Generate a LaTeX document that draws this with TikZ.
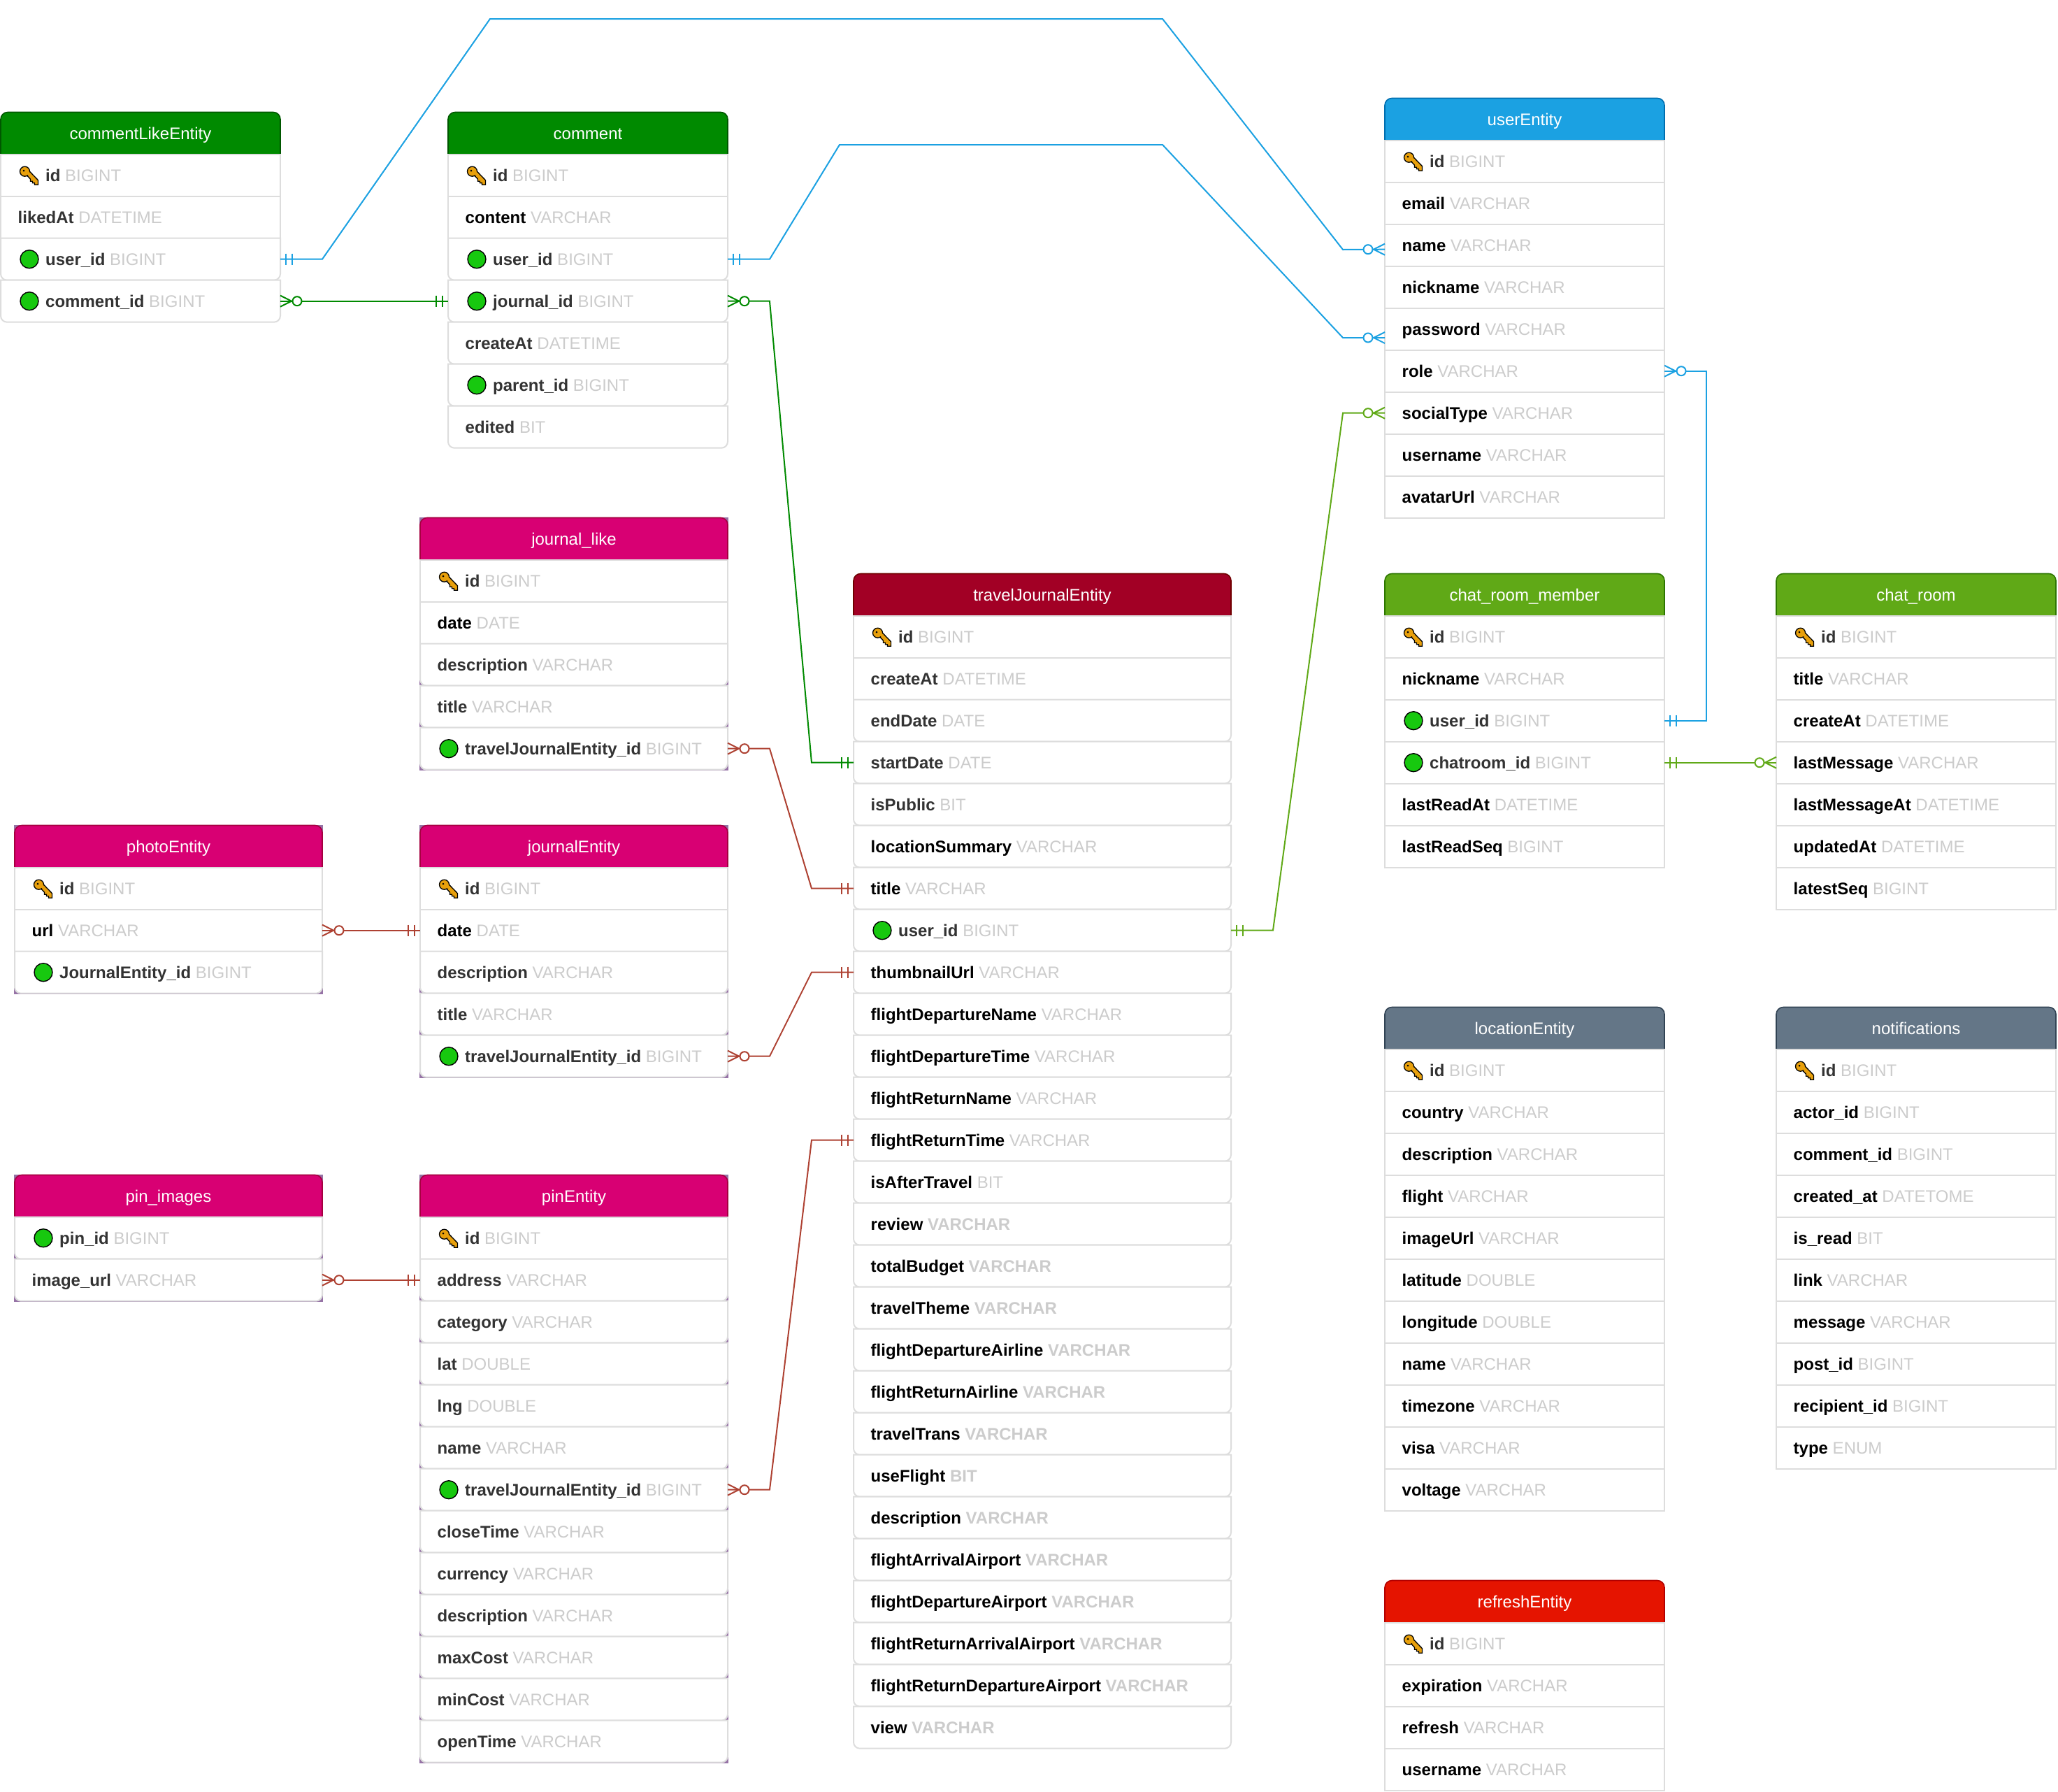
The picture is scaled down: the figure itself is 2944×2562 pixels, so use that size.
\documentclass[tikz,border=0pt]{standalone}
\usepackage{fontspec}
\setmainfont{Liberation Sans}
\definecolor{dn}{HTML}{333333}
\definecolor{kn}{HTML}{000000}
\definecolor{tyc}{HTML}{CCCCCC}
\definecolor{rowl}{HTML}{DDDDDD}
\definecolor{cornerc}{HTML}{9673A6}
\definecolor{gF}{HTML}{008A00}\definecolor{gS}{HTML}{005700}
\definecolor{bF}{HTML}{1BA1E2}\definecolor{bS}{HTML}{006EAF}
\definecolor{pF}{HTML}{D80073}\definecolor{pS}{HTML}{A50040}
\definecolor{cF}{HTML}{A20025}\definecolor{cS}{HTML}{6F0000}
\definecolor{lF}{HTML}{60A917}\definecolor{lS}{HTML}{2D7600}
\definecolor{sF}{HTML}{647687}\definecolor{sS}{HTML}{314354}
\definecolor{rF}{HTML}{E51400}\definecolor{rS}{HTML}{B20000}
\definecolor{keyc}{HTML}{E8A00C}
\definecolor{fkc}{HTML}{17C80F}
\definecolor{redl}{HTML}{AE4132}
\newcommand{\bv}{\bfseries VARCHAR}
\newcommand{\bb}{\bfseries BIT}
\tikzset{
 x=1pt,y=-1pt,
 rowline/.style={draw=rowl,line width=2pt,fill=white},
 rowtext/.style={anchor=base west,inner sep=0pt,font=\fontsize{24}{28}\selectfont},
 headtext/.style={anchor=base,inner sep=0pt,text=white,font=\fontsize{24}{28}\selectfont},
 rownode/.style={inner sep=0pt,outer sep=0pt,minimum height=60pt},
 conn/.style={line width=2pt,line join=miter},
 fkdot/.style={fill=fkc,draw=black,line width=1.4pt},
}
% keyicon: local box 27x27
\newcommand{\erKey}[2]{%
 \begin{scope}[shift={(#1,#2)}]
  \filldraw[fill=keyc,draw=black,line width=1.3pt] (12,5) -- (26.5,20) -- (26.5,26.5) -- (21.5,26.5) -- (21.5,24) -- (18.5,24) -- (18.5,21.5) -- (15.5,21.5) -- (15.5,18.5) -- (10,12.5) -- cycle;
  \filldraw[fill=keyc,draw=black,line width=1.3pt] (7.5,7.5) circle[radius=7pt];
  \fill[keyc] (12.5,7) -- (16,10.5) -- (13,13.5) -- (9.5,10.5) -- cycle;
  \fill[black] (6,6.5) circle[radius=1.5pt];
 \end{scope}}
% #1 id, #2 x, #3 top, #4 width, #5 fill, #6 stroke, #7 title, #8 first rounded row, #9 purple corners(1/0), then rows via \erRows
\newif\ifpurple
\newcommand{\erTable}[9]{%
 \def\tId{#1}\def\tX{#2}\def\tTop{#3}\def\tW{#4}\def\tFirst{#8}%
 \ifnum#9=1 \purpletrue\else\purplefalse\fi
 \ifpurple\fill[cornerc] (#2-1,#3-0.3) rectangle (#2+#4+1,#3+12);\fi
 \filldraw[fill=#5,draw=#6,line width=1.6pt] (#2,#3+60) [rounded corners=10] -- (#2,#3+0.5) -- (#2+#4,#3+0.5) [sharp corners] -- (#2+#4,#3+60);
 \node[headtext] at (#2+#4/2,#3+39) {#7};
 \erRows}
\newcommand{\erRows}[1]{%
 \foreach \ic/\nm/\ty/\cl [count=\k] in {#1}{%
  \pgfmathsetmacro{\yA}{\tTop+60*\k+0.7}%
  \pgfmathsetmacro{\yB}{\yA+60}%
  \pgfmathsetmacro{\yC}{\yA+30}%
  \ifnum\k<\tFirst\relax
   \draw[rowline] (\tX,\yA) rectangle (\tX+\tW,\yB);
  \else
   \ifpurple\fill[cornerc] (\tX-1,\yB-10) rectangle (\tX+\tW+1,\yB+1);\fi
   \draw[rowline] (\tX,\yA) [rounded corners=9] -- (\tX,\yB) -- (\tX+\tW,\yB) [sharp corners] -- (\tX+\tW,\yA) -- cycle;
  \fi
  \node[rownode,minimum width=\tW pt] (\tId-\k) at (\tX+\tW/2,\yC) {};
  \if\ic K
   \erKey{\tX+27}{\yC-13}
   \node[rowtext] at (\tX+64,\yC+8.8) {{\color{\cl}\bfseries \nm} {\color{tyc}\ty}};
  \else\if\ic C
   \draw[fkdot] (\tX+41,\yC) circle[radius=13pt];
   \node[rowtext] at (\tX+64,\yC+8.8) {{\color{\cl}\bfseries \nm} {\color{tyc}\ty}};
  \else
   \node[rowtext] at (\tX+24.5,\yC+8.8) {{\color{\cl}\bfseries \nm} {\color{tyc}\ty}};
  \fi\fi
 }}
% crow's foot with optional zero: #1 point, #2 direction, #3 colour
\newcommand{\erMany}[3]{%
 \begin{scope}[shift={(#1)},xscale=#2]
  \draw[conn,draw=#3] (0,-8) -- (16,0) -- (0,8);
  \filldraw[conn,draw=#3,fill=white] (24,0) circle[radius=6.5pt];
 \end{scope}}
% exactly-one bars
\newcommand{\erOne}[3]{%
 \begin{scope}[shift={(#1)},xscale=#2]
  \draw[conn,draw=#3] (8,-8) -- (8,8) (17,-8) -- (17,8);
 \end{scope}}
\begin{document}
\begin{tikzpicture}
\useasboundingbox (0,0) rectangle (2944,2562);
\fill[white] (0,0) rectangle (2944,2562);

\erTable{cl}{1}{160}{400}{gF}{gS}{commentLikeEntity}{3}{0}{K/id/BIGINT/dn,N/likedAt/DATETIME/dn,C/user\_id/BIGINT/dn,C/comment\_id/BIGINT/dn}
\erTable{cm}{641}{160}{400}{gF}{gS}{comment}{3}{0}{K/id/BIGINT/dn,N/content/VARCHAR/kn,C/user\_id/BIGINT/dn,C/journal\_id/BIGINT/dn,N/createAt/DATETIME/dn,C/parent\_id/BIGINT/dn,N/edited/BIT/dn}
\erTable{jl}{601}{740}{440}{pF}{pS}{journal\_like}{3}{1}{K/id/BIGINT/dn,N/date/DATE/kn,N/description/VARCHAR/dn,N/title/VARCHAR/dn,C/travelJournalEntity\_id/BIGINT/dn}
\erTable{ph}{21}{1180}{440}{pF}{pS}{photoEntity}{3}{1}{K/id/BIGINT/dn,N/url/VARCHAR/kn,C/JournalEntity\_id/BIGINT/dn}
\erTable{je}{601}{1180}{440}{pF}{pS}{journalEntity}{3}{1}{K/id/BIGINT/dn,N/date/DATE/kn,N/description/VARCHAR/dn,N/title/VARCHAR/dn,C/travelJournalEntity\_id/BIGINT/dn}
\erTable{pi}{21}{1680}{440}{pF}{pS}{pin\_images}{1}{1}{C/pin\_id/BIGINT/dn,N/image\_url/VARCHAR/dn}
\erTable{pe}{601}{1680}{440}{pF}{pS}{pinEntity}{2}{1}{K/id/BIGINT/dn,N/address/VARCHAR/dn,N/category/VARCHAR/dn,N/lat/DOUBLE/dn,N/lng/DOUBLE/dn,N/name/VARCHAR/dn,C/travelJournalEntity\_id/BIGINT/dn,N/closeTime/VARCHAR/dn,N/currency/VARCHAR/dn,N/description/VARCHAR/dn,N/maxCost/VARCHAR/dn,N/minCost/VARCHAR/dn,N/openTime/VARCHAR/dn}
\erTable{tj}{1221}{820}{540}{cF}{cS}{travelJournalEntity}{3}{0}{K/id/BIGINT/dn,N/createAt/DATETIME/dn,N/endDate/DATE/dn,N/startDate/DATE/dn,N/isPublic/BIT/dn,N/locationSummary/VARCHAR/kn,N/title/VARCHAR/kn,C/user\_id/BIGINT/dn,N/thumbnailUrl/VARCHAR/kn,N/flightDepartureName/VARCHAR/kn,N/flightDepartureTime/VARCHAR/kn,N/flightReturnName/VARCHAR/kn,N/flightReturnTime/VARCHAR/kn,N/isAfterTravel/BIT/kn,N/review/\bv/kn,N/totalBudget/\bv/kn,N/travelTheme/\bv/kn,N/flightDepartureAirline/\bv/kn,N/flightReturnAirline/\bv/kn,N/travelTrans/\bv/kn,N/useFlight/\bb/kn,N/description/\bv/kn,N/flightArrivalAirport/\bv/kn,N/flightDepartureAirport/\bv/kn,N/flightReturnArrivalAirport/\bv/kn,N/flightReturnDepartureAirport/\bv/kn,N/view/\bv/kn}
\erTable{ue}{1981}{140}{400}{bF}{bS}{userEntity}{99}{0}{K/id/BIGINT/dn,N/email/VARCHAR/kn,N/name/VARCHAR/kn,N/nickname/VARCHAR/kn,N/password/VARCHAR/kn,N/role/VARCHAR/kn,N/socialType/VARCHAR/kn,N/username/VARCHAR/kn,N/avatarUrl/VARCHAR/kn}
\erTable{cr}{1981}{820}{400}{lF}{lS}{chat\_room\_member}{99}{0}{K/id/BIGINT/dn,N/nickname/VARCHAR/kn,C/user\_id/BIGINT/dn,C/chatroom\_id/BIGINT/dn,N/lastReadAt/DATETIME/kn,N/lastReadSeq/BIGINT/kn}
\erTable{rm}{2541}{820}{400}{lF}{lS}{chat\_room}{99}{0}{K/id/BIGINT/dn,N/title/VARCHAR/kn,N/createAt/DATETIME/kn,N/lastMessage/VARCHAR/kn,N/lastMessageAt/DATETIME/kn,N/updatedAt/DATETIME/kn,N/latestSeq/BIGINT/kn}
\erTable{lo}{1981}{1440}{400}{sF}{sS}{locationEntity}{99}{0}{K/id/BIGINT/dn,N/country/VARCHAR/kn,N/description/VARCHAR/kn,N/flight/VARCHAR/kn,N/imageUrl/VARCHAR/kn,N/latitude/DOUBLE/kn,N/longitude/DOUBLE/kn,N/name/VARCHAR/kn,N/timezone/VARCHAR/kn,N/visa/VARCHAR/kn,N/voltage/VARCHAR/kn}
\erTable{no}{2541}{1440}{400}{sF}{sS}{notifications}{99}{0}{K/id/BIGINT/dn,N/actor\_id/BIGINT/kn,N/comment\_id/BIGINT/kn,N/created\_at/DATETOME/kn,N/is\_read/BIT/kn,N/link/VARCHAR/kn,N/message/VARCHAR/kn,N/post\_id/BIGINT/kn,N/recipient\_id/BIGINT/kn,N/type/ENUM/kn}
\erTable{re}{1981}{2260}{400}{rF}{rS}{refreshEntity}{99}{0}{K/id/BIGINT/dn,N/expiration/VARCHAR/kn,N/refresh/VARCHAR/kn,N/username/VARCHAR/kn}

% connector ends that sit off a row's middle
\coordinate (ueA) at ([yshift=-6pt]ue-3.west);
\coordinate (ueB) at ([yshift=-12.3pt]ue-5.west);

\draw[conn,draw=bF] (cl-3.east) -- ++(60,0) -- (701,27) -- (1663,27) -- (1921,357) -- (ueA);
\draw[conn,draw=bF] (cm-3.east) -- ++(60,0) -- (1201,207) -- (1663,207) -- (1921,483) -- (ueB);
\draw[conn,draw=gF] (cl-4.east) -- (cm-4.west);
\draw[conn,draw=gF] (cm-4.east) -- ++(60,0) -- (1161,1090.7) -- (tj-4.west);
\draw[conn,draw=redl] (jl-5.east) -- ++(60,0) -- (1161,1270.7) -- (tj-7.west);
\draw[conn,draw=redl] (ph-2.east) -- (je-2.west);
\draw[conn,draw=redl] (je-5.east) -- ++(60,0) -- (1161,1390.7) -- (tj-9.west);
\draw[conn,draw=redl] (pi-2.east) -- (pe-2.west);
\draw[conn,draw=redl] (pe-7.east) -- ++(60,0) -- (1161,1630.7) -- (tj-13.west);
\draw[conn,draw=lF] (tj-8.east) -- ++(60,0) -- (1921,590.7) -- (ue-7.west);
\draw[conn,draw=bF] (ue-6.east) -- ++(60,0) |- (cr-3.east);
\draw[conn,draw=lF] (cr-4.east) -- (rm-4.west);

\erOne{cl-3.east}{1}{bF}\erMany{ueA}{-1}{bF}
\erOne{cm-3.east}{1}{bF}\erMany{ueB}{-1}{bF}
\erMany{cl-4.east}{1}{gF}\erOne{cm-4.west}{-1}{gF}
\erMany{cm-4.east}{1}{gF}\erOne{tj-4.west}{-1}{gF}
\erMany{jl-5.east}{1}{redl}\erOne{tj-7.west}{-1}{redl}
\erMany{ph-2.east}{1}{redl}\erOne{je-2.west}{-1}{redl}
\erMany{je-5.east}{1}{redl}\erOne{tj-9.west}{-1}{redl}
\erMany{pi-2.east}{1}{redl}\erOne{pe-2.west}{-1}{redl}
\erMany{pe-7.east}{1}{redl}\erOne{tj-13.west}{-1}{redl}
\erOne{tj-8.east}{1}{lF}\erMany{ue-7.west}{-1}{lF}
\erMany{ue-6.east}{1}{bF}\erOne{cr-3.east}{1}{bF}
\erOne{cr-4.east}{1}{lF}\erMany{rm-4.west}{-1}{lF}
\end{tikzpicture}
\end{document}
